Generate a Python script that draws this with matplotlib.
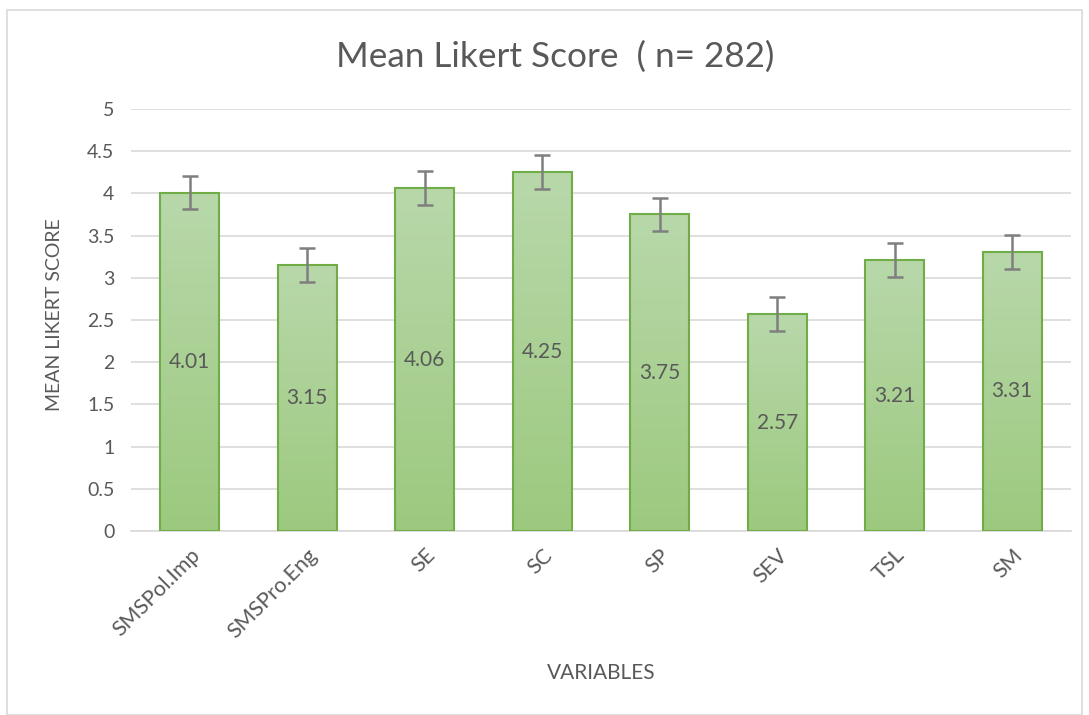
import numpy as np
import matplotlib
matplotlib.use('Agg')
from matplotlib import pyplot as plt
from matplotlib.patches import Rectangle

# Chart data
categories = ['SMSPol.Imp', 'SMSPro.Eng', 'SE', 'SC', 'SP', 'SEV', 'TSL', 'SM']
means = [4.01, 3.15, 4.06, 4.25, 3.75, 2.57, 3.21, 3.31]
errors = [0.2, 0.2, 0.2, 0.2, 0.2, 0.2, 0.2, 0.2]
yticks = [0, 0.5, 1, 1.5, 2, 2.5, 3, 3.5, 4, 4.5, 5]

plt.rcParams['font.family'] = ['Lato', 'DejaVu Sans']
text_col = '#595959'
grid_col = '#d9d9d9'


def main():
    fig = plt.figure(figsize=(10.89, 7.15), dpi=100)
    ax = fig.add_axes([0.1203, 0.2573, 0.8632, 0.5903])

    # outer chart frame
    fig.patches.append(Rectangle((7 / 1089, 0.0), 1075 / 1089, 1 - 10 / 715,
                                 transform=fig.transFigure, fill=False,
                                 edgecolor=grid_col, linewidth=1.2))

    x = np.arange(len(categories))
    bars = ax.bar(x, means, width=0.5, color='none', edgecolor='#70ad47',
                  linewidth=1.5, zorder=3)

    # vertical gradient fill, clipped to each bar
    grad = np.linspace(0, 1, 256).reshape(-1, 1)
    cmap = matplotlib.colors.LinearSegmentedColormap.from_list(
        'g', ['#9cc97e', '#b8d8aa'])
    for bar in bars:
        x0, w, h = bar.get_x(), bar.get_width(), bar.get_height()
        im = ax.imshow(grad, cmap=cmap, aspect='auto', origin='lower',
                       extent=[x0, x0 + w, 0, h], zorder=2)
        im.set_clip_path(bar)

    ax.errorbar(x, means, yerr=errors, fmt='none', ecolor='#7f7f7f',
                elinewidth=1.8, capsize=6, capthick=1.8, zorder=4)

    for xi, v in zip(x, means):
        ax.text(xi, v / 2, '%.2f' % v, ha='center', va='center',
                fontsize=15, color=text_col, zorder=5)

    ax.set_xlim(-0.5, len(categories) - 0.5)
    ax.set_ylim(0, 5)
    ax.set_yticks(yticks)
    ax.set_yticklabels(['%g' % t for t in yticks])
    ax.set_xticks(x)
    ax.set_xticklabels(categories, rotation=45, ha='right',
                       rotation_mode='anchor', fontsize=15.5)
    ax.tick_params(axis='both', length=0, labelcolor=text_col)
    ax.tick_params(axis='y', pad=12, labelsize=14)
    ax.tick_params(axis='x', pad=10)

    ax.yaxis.grid(True, color=grid_col, linewidth=1.2, zorder=0)
    ax.set_axisbelow(True)
    for side in ['top', 'right', 'left']:
        ax.spines[side].set_visible(False)
    ax.spines['bottom'].set_color(grid_col)
    ax.spines['bottom'].set_linewidth(1.2)

    fig.text(555 / 1089, 1 - 57 / 715, 'Mean Likert Score  ( n= 282)',
             ha='center', va='center', fontsize=25.3, color=text_col)
    fig.text(55 / 1089, 1 - 315 / 715, 'MEAN LIKERT SCORE', rotation=90,
             ha='center', va='center', fontsize=14, color=text_col)
    fig.text(601 / 1089, 1 - 673 / 715, 'VARIABLES', ha='center',
             va='center', fontsize=15, color=text_col)

    fig.savefig('out.png', dpi=100, facecolor='white')


if __name__ == '__main__':
    main()
